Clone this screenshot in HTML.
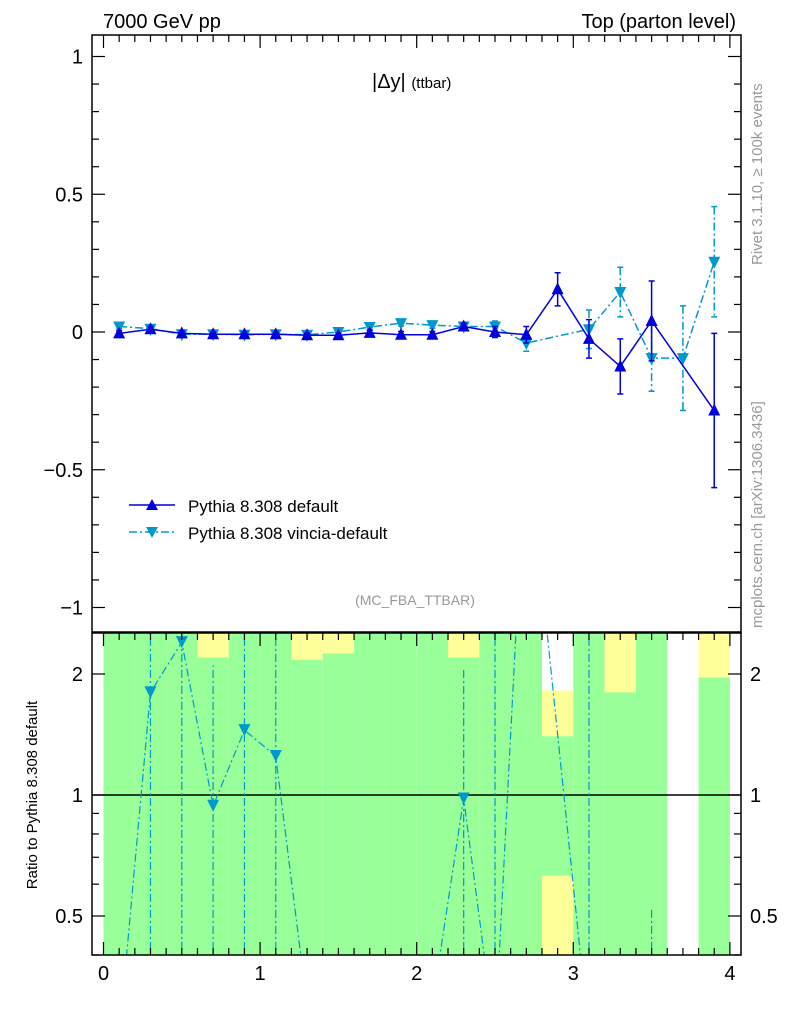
<!DOCTYPE html>
<html><head><meta charset="utf-8"><style>
html,body{margin:0;padding:0;background:#fff;overflow:hidden;}
svg{font-family:"Liberation Sans",sans-serif;display:block;}
</style></head><body>
<svg id="chart" width="786" height="1024" viewBox="0 0 786 1024">
<defs>
<clipPath id="cm"><rect x="92" y="35" width="649" height="597"/></clipPath>
<clipPath id="cr"><rect x="92" y="633" width="649" height="322"/></clipPath>
</defs>
<g id="ratioBg" clip-path="url(#cr)"></g>
<g id="ratioMarks" clip-path="url(#cr)"></g>
<g id="mainMarks" clip-path="url(#cm)"></g>
<g id="axes"></g>
<text x="103" y="28" font-size="20">7000 GeV pp</text>
<text x="736" y="28" font-size="20" text-anchor="end">Top (parton level)</text>
<text x="372" y="88" font-size="20">|Δy| <tspan font-size="15">(ttbar)</tspan></text>
<text x="415" y="605" font-size="14" fill="#999" text-anchor="middle">(MC_FBA_TTBAR)</text>
<text transform="translate(762,265) rotate(-90)" font-size="15" fill="#999">Rivet 3.1.10, ≥ 100k events</text>
<text transform="translate(762,628) rotate(-90)" font-size="15" fill="#999">mcplots.cern.ch [arXiv:1306.3436]</text>
<text transform="translate(37,795) rotate(-90)" font-size="15" text-anchor="middle">Ratio to Pythia 8.308 default</text>
<g>
<line x1="129" y1="505" x2="175" y2="505" stroke="#0000dd" stroke-width="1.5"/>
<path d="M152,499 L158,510 L146,510Z" fill="#0000dd"/>
<text x="188" y="512" font-size="17">Pythia 8.308 default</text>
<line x1="129" y1="532" x2="175" y2="532" stroke="#0099cc" stroke-width="1.5" stroke-dasharray="8,3,2,3"/>
<path d="M146,527 L158,527 L152,538Z" fill="#0099cc"/>
<text x="188" y="539" font-size="17">Pythia 8.308 vincia-default</text>
</g>
</svg>
<script>
const xCenters=[0.1,0.3,0.5,0.7,0.9,1.1,1.3,1.5,1.7,1.9,2.1,2.3,2.5,2.7,2.9,3.1,3.3,3.5,3.7,3.9];
const defVals=[-0.005,0.01,-0.005,-0.008,-0.008,-0.008,-0.012,-0.012,-0.003,-0.01,-0.01,0.02,0.0,-0.01,0.155,-0.025,-0.125,0.04,null,-0.285];
const defErrs=[0.01,0.01,0.01,0.008,0.008,0.008,0.008,0.008,0.01,0.012,0.012,0.012,0.02,0.03,0.06,0.07,0.1,0.145,0,0.28];
const vinVals=[0.02,0.012,-0.008,-0.008,-0.01,-0.008,-0.01,0.0,0.018,0.032,0.025,0.02,0.02,-0.04,null,0.01,0.145,-0.095,-0.095,0.255];
const vinErrs=[0.008,0.008,0.008,0.008,0.008,0.008,0.008,0.008,0.01,0.01,0.012,0.015,0.02,0.03,0,0.07,0.09,0.12,0.19,0.2];
const ratioVals=[0.25,1.8,2.4,0.94,1.45,1.25,0.3,0.05,0.05,0.05,0.3,0.98,0.25,8,null,0.25,null,null,null,null];
const ratioErrLo=[null,0.05,0.05,0.05,0.05,0.05,null,null,null,null,null,0.05,0.05,null,null,0.05,null,0.05,null,null];
const ratioErrHi=[null,9,9,2.1,9,9,null,null,null,null,null,2.05,9,null,null,9,null,0.52,null,null];
const bandLo=[0.3,0.3,0.3,0.3,0.3,0.3,0.3,0.3,0.3,0.3,0.3,0.3,0.3,0.3,0.3,0.3,0.3,0.3,null,0.3];
const bandYellowTop=[null,null,null,2.2,null,null,2.17,2.25,null,null,null,2.2,null,null,1.4,null,1.8,null,null,1.96];
const yellowBottom=[[2.8,3.0,0.3,0.63]];
const mainTicks=[-1,-0.5,0,0.5,1];
const ratioTicks=[0.5,1,2];
const xTicks=[0,1,2,3,4];

const NS="http://www.w3.org/2000/svg";
const X=v=>103.5+v*156.6;
const Y=v=>332-v*275.5;
const R=v=>795-Math.log2(v)*121;
function mk(p,tag,at){const e=document.createElementNS(NS,tag);for(const k in at)e.setAttribute(k,at[k]);p.appendChild(e);return e;}
const bg=document.getElementById('ratioBg');
const rm=document.getElementById('ratioMarks');
const mm=document.getElementById('mainMarks');
const ax=document.getElementById('axes');
xCenters.forEach((c,i)=>{
 if(bandLo[i]===null)return;
 const x0=X(c-0.1),x1=X(c+0.1);
 let top=633;
 if(bandYellowTop[i]!==null){
  let yT=R(bandYellowTop[i]);
  if(c===2.9){const w=mk(bg,'rect',{x:x0,y:633,width:x1-x0,height:R(1.82)-633,fill:'#fff'});
   
   
   const yy=mk(bg,'rect',{x:x0,y:R(1.82),width:x1-x0,height:yT-R(1.82),fill:'#ffff99'});
   
   }
  else{const yy=mk(bg,'rect',{x:x0,y:633,width:x1-x0,height:yT-633,fill:'#ffff99'});
   
   }
  top=yT;
 }
 const g=mk(bg,'rect',{x:x0,y:top,width:x1-x0,height:955-top,fill:'#99ff99'});
 
 
});
yellowBottom.forEach(b=>{const r=mk(bg,'rect',{x:X(b[0]),y:R(b[3]),width:X(b[1])-X(b[0]),height:955-R(b[3]),fill:'#ffff99'});
 
 });
const one=mk(bg,'line',{x1:92,x2:741,y1:R(1),y2:R(1),stroke:'#000','stroke-width':1.5});


const dd='8,3,2,3';
xCenters.forEach((c,i)=>{
 if(ratioErrLo[i]!==null){const l=mk(rm,'line',{x1:X(c),x2:X(c),y1:R(ratioErrLo[i]),y2:R(ratioErrHi[i]),stroke:'#0099cc','stroke-width':1.2,'stroke-dasharray':dd});
  
  }
});
let rp='';let started=false;
xCenters.forEach((c,i)=>{const v=ratioVals[i];if(v===null)return;rp+=(started?'L':'M')+X(c)+','+R(v);started=true;});
const rl=mk(rm,'path',{d:rp,fill:'none',stroke:'#0099cc','stroke-width':1.2,'stroke-dasharray':dd});


xCenters.forEach((c,i)=>{const v=ratioVals[i];if(v===null||v<0.4||v>2.6)return;const x=X(c),y=R(v);
 const t=mk(rm,'path',{d:`M${x-6},${y-6}L${x+6},${y-6}L${x},${y+6}Z`,fill:'#0099cc'});
 
 });
function series(vals,errs,col,dash,up,name){
 let d='';let s=false;
 vals.forEach((v,i)=>{if(v===null)return;d+=(s?'L':'M')+X(xCenters[i])+','+Y(v);s=true;});
 const p=mk(mm,'path',{d:d,fill:'none',stroke:col,'stroke-width':1.5});
 if(dash)p.setAttribute('stroke-dasharray',dash);
 
 
 vals.forEach((v,i)=>{if(v===null)return;const x=X(xCenters[i]),y=Y(v),e=errs[i];
  const g=mk(mm,'path',{d:`M${x},${Y(v+e)}L${x},${Y(v-e)}M${x-3},${Y(v+e)}L${x+3},${Y(v+e)}M${x-3},${Y(v-e)}L${x+3},${Y(v-e)}`,stroke:col,'stroke-width':1.5,fill:'none'});
  if(dash)g.setAttribute('stroke-dasharray',dash);
  
  
  const m=mk(mm,'path',{d:up?`M${x},${y-7}L${x+6},${y+5}L${x-6},${y+5}Z`:`M${x-6},${y-5}L${x+6},${y-5}L${x},${y+7}Z`,fill:col});
  
  });
}
series(vinVals,vinErrs,'#0099cc','8,3,2,3',false,'vincia');
series(defVals,defErrs,'#0000dd',null,true,'default');
[[35,632],[633,955]].forEach(f=>{const r=mk(ax,'rect',{x:92,y:f[0],width:649,height:f[1]-f[0],fill:'none',stroke:'#000','stroke-width':1.5});
 
 });
function tk(x1,y1,x2,y2){mk(ax,'line',{x1,y1,x2,y2,stroke:'#000','stroke-width':1.2});}
for(let k=-10;k<=10;k++){const v=k/10,y=Y(v),L=(k%5===0)?13:7;tk(92,y,92+L,y);tk(741,y,741-L,y);}
mainTicks.forEach(v=>{const t=mk(ax,'text',{x:83,y:Y(v)+7,'font-size':20,'text-anchor':'end'});t.textContent=v===0?'0':String(v).replace('-','−');
 
 });
for(let k=0;k<=40;k++){const v=k/10,x=X(v);const L=(k%10===0)?13:7;tk(x,35,x,35+L);tk(x,633,x,633+L);tk(x,955,x,955-L);}
[0.4,0.5,0.6,0.7,0.8,0.9,1,2].forEach(v=>{const y=R(v),L=(v===0.5||v===1||v===2)?13:7;tk(92,y,92+L,y);tk(741,y,741-L,y);});
ratioTicks.forEach(v=>{const t=mk(ax,'text',{x:83,y:R(v)+7,'font-size':20,'text-anchor':'end'});t.textContent=String(v);
 
 
 const t2=mk(ax,'text',{x:750,y:R(v)+7,'font-size':20});t2.textContent=String(v);
 
 });
xTicks.forEach(v=>{const t=mk(ax,'text',{x:X(v),y:980,'font-size':20,'text-anchor':'middle'});t.textContent=String(v);
 
 });
</script>
</body></html>
